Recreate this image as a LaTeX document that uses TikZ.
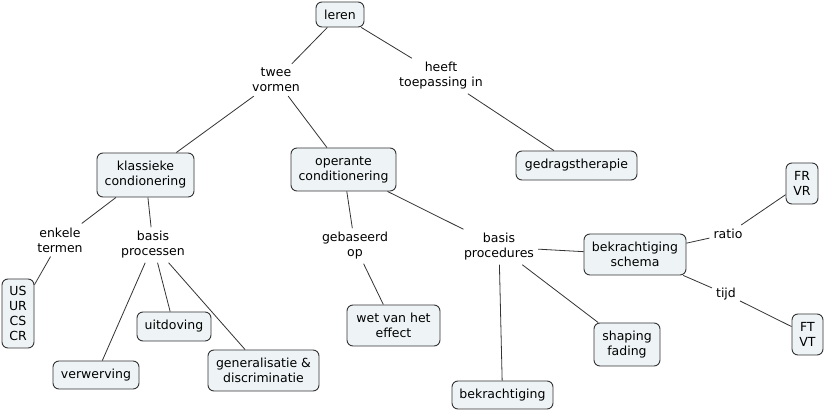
\documentclass[tikz,border=0pt]{standalone}
\usepackage{fontspec}
\setmainfont{DejaVu Sans}
\definecolor{boxfill}{HTML}{EEF4F6}
\definecolor{boxline}{HTML}{333333}
\definecolor{edgecol}{HTML}{333333}
\begin{document}
\begin{tikzpicture}[x=1pt,y=-1pt,
  every node/.style={font=\fontsize{12.5}{15}\selectfont, align=center, text=black},
  cbox/.style 2 args={draw=boxline, fill=boxfill, rounded corners=6pt, line width=0.9pt,
     minimum width=#1pt, minimum height=#2pt, inner sep=0pt},
  lab/.style={inner sep=4pt, fill=none},
  edge/.style={draw=edgecol, line width=0.8pt}]
\useasboundingbox[fill=white] (0,0) rectangle (825,411);
% concept boxes
\node[cbox={48}{25}] (leren) at (340,14.5) {leren};
\node[cbox={97}{44}] (klass) at (145.5,175) {klassieke\\condionering};
\node[cbox={105}{43}] (oper) at (343.5,169.5) {operante\\conditionering};
\node[cbox={121}{29}] (gedrag) at (576.5,165.5) {gedragstherapie};
\node[cbox={32}{41}] (frvr) at (802,183.5) {FR\\VR};
\node[cbox={32}{69}] (us) at (18,313.5) {US\\UR\\CS\\CR};
\node[cbox={74}{29}] (uit) at (174,326.5) {uitdoving};
\node[cbox={86}{28}] (verw) at (96,375) {verwerving};
\node[cbox={111}{41}] (gen) at (263.5,370.5) {generalisatie \&\\discriminatie};
\node[cbox={93}{41}] (wet) at (393.5,325.5) {wet van het\\effect};
\node[cbox={102}{41}] (bschema) at (635,254.5) {bekrachtiging\\schema};
\node[cbox={31}{41}] (ftvt) at (807.5,334.5) {FT\\VT};
\node[cbox={66}{43}] (shap) at (627,344.5) {shaping\\fading};
\node[cbox={101}{28}] (bek) at (502.5,395) {bekrachtiging};
% linking phrases
\node[lab] (twee) at (276,80) {twee\\vormen};
\node[lab] (heeft) at (441,76) {heeft\\toepassing in};
\node[lab] (enkele) at (60,240) {enkele\\termen};
\node[lab] (bproc) at (153,245) {basis\\processen};
\node[lab] (geb) at (355,246) {gebaseerd\\op};
\node[lab] (bproced) at (499,247) {basis\\procedures};
\node[lab] (ratio) at (728,234) {ratio};
\node[lab] (tijd) at (726,294) {tijd};
% connectors
\draw[edge] (leren) -- (twee);
\draw[edge] (leren) -- (heeft);
\draw[edge] (twee) -- (klass);
\draw[edge] (twee) -- (oper);
\draw[edge] (heeft) -- (gedrag);
\draw[edge] (klass) -- (enkele);
\draw[edge] (klass) -- (bproc);
\draw[edge] (enkele) -- (us);
\draw[edge] (bproc) -- (verw);
\draw[edge] (bproc) -- (uit);
\draw[edge] (bproc) -- (gen);
\draw[edge] (oper) -- (geb);
\draw[edge] (geb) -- (wet);
\draw[edge] (oper) -- (bproced);
\draw[edge] (bproced) -- (bek);
\draw[edge] (bproced) -- (shap);
\draw[edge] (bproced) -- (bschema);
\draw[edge] (bschema) -- (ratio);
\draw[edge] (ratio) -- (frvr);
\draw[edge] (bschema) -- (tijd);
\draw[edge] (tijd) -- (ftvt);
\end{tikzpicture}
\end{document}
